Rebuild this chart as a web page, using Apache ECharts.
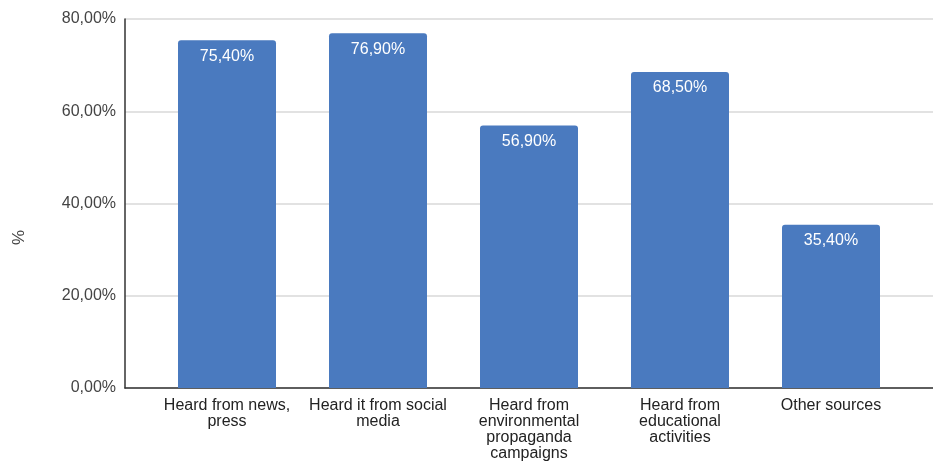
<!DOCTYPE html>
<html><head><meta charset="utf-8">
<script src="https://cdn.jsdelivr.net/npm/echarts@6/dist/echarts.min.js"></script>
<style>html,body{margin:0;padding:0;background:#fff}#c{width:933px;height:465px}</style>
</head><body><div id="c"></div>
<script>
const categories = ["Heard from news,\npress", "Heard it from social\nmedia", "Heard from\nenvironmental\npropaganda\ncampaigns", "Heard from\neducational\nactivities", "Other sources"];
const values = [75.4, 76.9, 56.9, 68.5, 35.4];
const yMin = 0, yMax = 80, yStep = 20;
const fmt = v => v.toFixed(2).replace('.', ',') + '%';

const chart = echarts.init(document.getElementById('c'), null, {renderer: 'canvas'});
const F = 'Liberation Sans, Arial, sans-serif';
chart.setOption({
  animation: false,
  grid: [
    {left: 125, right: 0, top: 19, bottom: 77},
    {left: 151.5, right: 26.5, top: 19, bottom: 77}
  ],
  xAxis: [
    {gridIndex: 0, type: 'value', min: 0, max: 1, axisLine: {show: true, lineStyle: {color: '#333', width: 1.5}},
     axisTick: {show: false}, axisLabel: {show: false}, splitLine: {show: false}},
    {gridIndex: 1, type: 'category', data: categories, axisLine: {show: false}, axisTick: {show: false},
     axisLabel: {interval: 0, color: '#222', fontFamily: F, fontSize: 16, lineHeight: 16, margin: 10}}
  ],
  yAxis: [
    {gridIndex: 0, type: 'value', min: yMin, max: yMax, interval: yStep,
     name: '%', nameLocation: 'middle', nameGap: 97, nameRotate: 90,
     nameTextStyle: {color: '#444', fontFamily: F, fontSize: 17, padding: [0, 68, 0, 0]},
     axisLine: {show: true, lineStyle: {color: '#333', width: 1.5}}, axisTick: {show: false},
     axisLabel: {formatter: fmt, color: '#444', fontFamily: F, fontSize: 16, margin: 9},
     splitLine: {lineStyle: {color: '#d9d9d9', width: 1.5}}},
    {gridIndex: 1, type: 'value', min: yMin, max: yMax, interval: yStep, show: false, splitLine: {show: false}}
  ],
  series: [{
    type: 'bar', xAxisIndex: 1, yAxisIndex: 1, data: values, barWidth: 98,
    itemStyle: {color: '#4a7abf', borderRadius: [3, 3, 0, 0]},
    label: {show: true, position: 'insideTop', distance: 8, formatter: p => fmt(p.value),
      color: '#fff', fontFamily: F, fontSize: 16}
  }]
});
</script></body></html>
